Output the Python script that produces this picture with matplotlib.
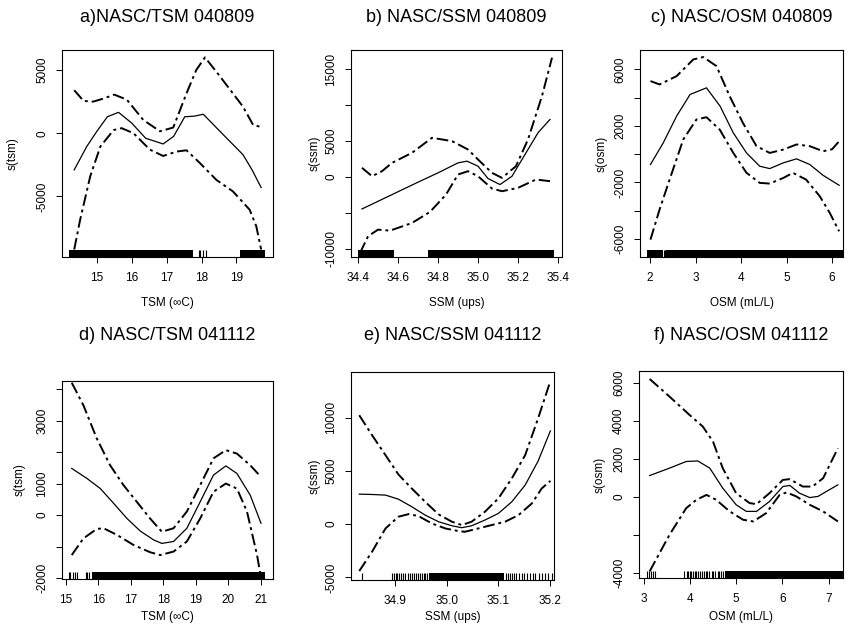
import numpy as np
import matplotlib
matplotlib.use("Agg")
import matplotlib.pyplot as plt
import matplotlib.transforms as mtransforms

plt.rcParams['font.family'] = ['Liberation Sans', 'DejaVu Sans']

W, H = 856, 631

# ---- panel a) NASC/TSM 040809
a_fit_x = [14.35, 14.71, 15.0, 15.3, 15.62, 16.0, 16.4, 16.9, 17.2, 17.52, 17.8, 18.05, 18.6, 19.19, 19.45, 19.71]
a_fit_y = [-2900, -1050, 150, 1300, 1650, 800, -400, -850, -250, 1300, 1350, 1500, -50, -1700, -2900, -4300]
a_up_x = [14.35, 14.62, 14.9, 15.2, 15.5, 15.86, 16.33, 16.81, 17.19, 17.57, 17.85, 18.1, 18.5, 18.9, 19.19, 19.48, 19.7]
a_up_y = [3400, 2550, 2500, 2750, 3050, 2650, 1050, 150, 450, 3150, 5000, 6000, 4600, 3150, 2100, 650, 500]
a_lo_x = [14.35, 14.52, 14.81, 15.1, 15.48, 15.71, 16.05, 16.52, 16.9, 17.29, 17.57, 17.95, 18.43, 18.9, 19.38, 19.57, 19.71]
a_lo_y = [-9200, -6850, -3400, -1050, 250, 400, 0, -1300, -1800, -1450, -1350, -2350, -3700, -4600, -6050, -7350, -9200]
a_rug_bands = [(14.21, 17.76), (19.1, 19.81)]
a_rug_ticks = [17.93, 17.97, 18.03, 18.12]

# ---- panel b) NASC/SSM 040809
b_fit_x = [34.42, 34.57, 34.70, 34.80, 34.90, 34.945, 35.0, 35.05, 35.11, 35.17, 35.24, 35.30, 35.36]
b_fit_y = [-4470, -2470, -740, 560, 1950, 2190, 1490, -230, -1070, 90, 3350, 6140, 8000]
b_up_x = [34.42, 34.47, 34.52, 34.57, 34.67, 34.77, 34.87, 34.95, 35.0, 35.07, 35.12, 35.19, 35.25, 35.32, 35.37]
b_up_y = [1260, 90, 790, 1950, 3350, 5440, 4980, 3810, 2420, 560, -140, 1490, 5210, 11260, 16600]
b_lo_x = [34.41, 34.45, 34.50, 34.56, 34.67, 34.76, 34.84, 34.90, 34.95, 35.0, 35.07, 35.12, 35.20, 35.29, 35.36]
b_lo_y = [-10600, -8280, -7350, -7490, -6420, -4880, -2470, 330, 790, 90, -1630, -2000, -1530, -370, -600]
b_rug_bands = [(34.4, 34.58), (34.75, 35.38)]
b_rug_ticks = []

# ---- panel c) NASC/OSM 040809
c_fit_x = [2.01, 2.29, 2.585, 2.88, 3.24, 3.54, 3.83, 4.12, 4.41, 4.63, 4.93, 5.22, 5.51, 5.80, 6.155]
c_fit_y = [-730, 800, 2700, 4230, 4700, 3400, 1510, 90, -850, -1020, -610, -330, -730, -1490, -2200]
c_up_x = [2.01, 2.21, 2.585, 2.95, 3.17, 3.46, 3.75, 4.04, 4.34, 4.63, 4.93, 5.22, 5.51, 5.80, 6.0, 6.155]
c_up_y = [5180, 4940, 5530, 6710, 6880, 6240, 4110, 2220, 570, 90, 330, 690, 570, 210, 350, 920]
c_lo_x = [2.01, 2.21, 2.43, 2.73, 3.02, 3.24, 3.53, 3.83, 4.12, 4.41, 4.63, 4.93, 5.14, 5.43, 5.73, 5.95, 6.155]
c_lo_y = [-6050, -3920, -1800, 1040, 2460, 2620, 1750, 90, -1320, -2030, -2080, -1680, -1320, -1800, -2980, -4160, -5460]
c_rug_bands = [(1.94, 2.29), (2.345, 6.24)]
c_rug_ticks = [2.31, 2.325]

# ---- panel d) NASC/TSM 041112
d_fit_x = [15.18, 15.65, 16.06, 16.47, 16.88, 17.29, 17.70, 17.95, 18.31, 18.72, 19.13, 19.54, 19.92, 20.26, 20.67, 21.0]
d_fit_y = [1480, 1160, 840, 370, -110, -510, -790, -900, -840, -420, 420, 1270, 1560, 1320, 630, -260]
d_up_x = [15.18, 15.54, 15.95, 16.36, 16.77, 17.18, 17.59, 17.95, 18.31, 18.72, 19.13, 19.54, 19.92, 20.26, 20.67, 21.0]
d_up_y = [4200, 3480, 2430, 1580, 950, 420, -110, -530, -420, 110, 950, 1800, 2060, 1950, 1580, 1210]
d_lo_x = [15.18, 15.54, 15.95, 16.16, 16.57, 17.08, 17.59, 17.90, 18.31, 18.72, 19.13, 19.54, 19.92, 20.26, 20.57, 20.88, 21.0]
d_lo_y = [-1270, -740, -440, -420, -630, -950, -1180, -1270, -1160, -840, -110, 740, 1000, 840, 110, -1270, -2000]
d_rug_bands = [(15.79, 21.12)]
d_rug_ticks = [15.1, 15.14, 15.21, 15.29, 15.33, 15.62, 15.66, 15.72]

# ---- panel e) NASC/SSM 041112
e_fit_x = [34.830, 34.855, 34.881, 34.906, 34.932, 34.958, 34.984, 35.010, 35.029, 35.048, 35.074, 35.1, 35.126, 35.152, 35.177, 35.201]
e_fit_y = [2810, 2780, 2720, 2340, 1630, 840, 220, -160, -340, -160, 380, 1000, 2090, 3660, 5900, 8750]
e_up_x = e_fit_x
e_up_y = [10220, 8340, 6470, 4660, 3340, 2090, 910, 220, -90, 220, 1160, 2410, 4280, 6470, 9910, 13440]
e_lo_x = [34.830, 34.855, 34.881, 34.906, 34.926, 34.945, 34.971, 34.997, 35.023, 35.035, 35.061, 35.087, 35.113, 35.139, 35.165, 35.184, 35.201]
e_lo_y = [-4410, -2590, -410, 690, 940, 750, 60, -410, -660, -720, -410, -90, 220, 840, 1940, 3340, 4060]
e_rug_bands = [(34.966, 35.11)]
e_rug_ticks = [34.836, 34.893, 34.897, 34.901, 34.904, 34.908, 34.912, 34.915, 34.919, 34.924,
               34.929, 34.932, 34.936, 34.94, 34.944, 34.947, 34.951, 34.955, 34.958, 34.962,
               35.114, 35.118, 35.122, 35.127, 35.131, 35.135, 35.14, 35.145, 35.15, 35.156,
               35.162, 35.167, 35.172, 35.178, 35.184, 35.19, 35.197, 35.205]

# ---- panel f) NASC/OSM 041112
f_fit_x = [3.13, 3.56, 3.92, 4.17, 4.43, 4.71, 5.0, 5.22, 5.44, 5.72, 6.01, 6.16, 6.37, 6.59, 6.77, 6.95, 7.2]
f_fit_y = [1120, 1510, 1860, 1890, 1510, 460, -420, -770, -770, -250, 540, 600, 190, -40, 20, 280, 630]
f_up_x = [3.13, 3.56, 3.99, 4.28, 4.5, 4.71, 5.0, 5.29, 5.44, 5.72, 6.01, 6.16, 6.44, 6.65, 6.88, 7.2]
f_up_y = [6210, 5280, 4320, 3700, 2910, 1510, 190, -330, -390, 190, 890, 930, 540, 540, 980, 2560]
f_lo_x = [3.13, 3.56, 3.92, 4.14, 4.36, 4.57, 4.86, 5.15, 5.37, 5.65, 5.94, 6.09, 6.3, 6.59, 6.88, 7.2]
f_lo_y = [-3930, -2000, -600, -160, 100, -160, -770, -1210, -1300, -860, 100, 230, 20, -420, -770, -1300]
f_rug_bands = [(4.76, 7.31)]
f_rug_ticks = [3.08, 3.12, 3.16, 3.2, 3.245, 3.88, 3.94, 3.97, 4.0, 4.03, 4.07, 4.1, 4.14, 4.18,
               4.22, 4.26, 4.3, 4.34, 4.38, 4.42, 4.47, 4.51, 4.55, 4.6, 4.64, 4.68, 4.72]

titles = ["a)NASC/TSM 040809", "b) NASC/SSM 040809", "c) NASC/OSM 040809",
          "d) NASC/TSM 041112", "e) NASC/SSM 041112", "f) NASC/OSM 041112"]
xlabels = ["TSM (\u221eC)", "SSM (ups)", "OSM (mL/L)"] * 2
ylabels = ["s(tsm)", "s(ssm)", "s(osm)"] * 2

xticks = [[15, 16, 17, 18, 19],
          [34.4, 34.6, 34.8, 35.0, 35.2, 35.4],
          [2, 3, 4, 5, 6],
          [15, 16, 17, 18, 19, 20, 21],
          [34.9, 35.0, 35.1, 35.2],
          [3, 4, 5, 6, 7]]
xticklabels = [["15", "16", "17", "18", "19"],
               ["34.4", "34.6", "34.8", "35.0", "35.2", "35.4"],
               ["2", "3", "4", "5", "6"],
               ["15", "16", "17", "18", "19", "20", "21"],
               ["34.9", "35.0", "35.1", "35.2"],
               ["3", "4", "5", "6", "7"]]
yticks = [[-5000, 0, 5000],
          [-10000, -5000, 0, 5000, 10000, 15000],
          [-6000, -4000, -2000, 0, 2000, 4000, 6000],
          [-2000, -1000, 0, 1000, 2000, 3000, 4000],
          [-5000, 0, 5000, 10000],
          [-4000, -2000, 0, 2000, 4000, 6000]]
yticklabels = [["-5000", "0", "5000"],
               ["-10000", "", "0", "5000", "", "15000"],
               ["-6000", "", "-2000", "", "2000", "", "6000"],
               ["-2000", "", "0", "1000", "", "3000", ""],
               ["-5000", "0", "5000", "10000"],
               ["-4000", "", "0", "2000", "4000", "6000"]]

panels = [
    (a_fit_x, a_fit_y, a_up_x, a_up_y, a_lo_x, a_lo_y, a_rug_bands, a_rug_ticks),
    (b_fit_x, b_fit_y, b_up_x, b_up_y, b_lo_x, b_lo_y, b_rug_bands, b_rug_ticks),
    (c_fit_x, c_fit_y, c_up_x, c_up_y, c_lo_x, c_lo_y, c_rug_bands, c_rug_ticks),
    (d_fit_x, d_fit_y, d_up_x, d_up_y, d_lo_x, d_lo_y, d_rug_bands, d_rug_ticks),
    (e_fit_x, e_fit_y, e_up_x, e_up_y, e_lo_x, e_lo_y, e_rug_bands, e_rug_ticks),
    (f_fit_x, f_fit_y, f_up_x, f_up_y, f_lo_x, f_lo_y, f_rug_bands, f_rug_ticks),
]

# layout in pixels: left, top, right, bottom of the plot box
boxes = [(62, 50, 273, 257), (351, 50, 562, 257), (640, 50, 843, 257),
         (62, 381, 273, 579), (351, 372, 554, 580), (639, 371, 843, 578)]
xlims = [(14.0, 20.05), (34.365, 35.42), (1.78, 6.24),
         (14.88, 21.37), (34.814, 35.208), (2.9, 7.31)]
ylims = [(-9790, 6580), (-11160, 17670), (-7280, 7380),
         (-2030, 4255), (-5250, 14280), (-4280, 6630)]
title_y = [18, 18, 18, 335, 335, 335]
xlab_y = [303, 303, 303, 617, 617, 617]
ylab_x = [13, 315, 602, 20, 315, 600]

fig = plt.figure(figsize=(W / 100, H / 100), dpi=100)
dashdot = (0, (6, 2, 1.5, 2))

for i, (fx, fy, ux, uy, lx, ly, bands, ticks) in enumerate(panels):
    l, t, r, b = boxes[i]
    ax = fig.add_axes([l / W, 1 - b / H, (r - l) / W, (b - t) / H])

    ax.plot(fx, fy, color='black', lw=0.9)
    ax.plot(ux, uy, color='black', lw=1.4, linestyle=dashdot)
    ax.plot(lx, ly, color='black', lw=1.4, linestyle=dashdot)

    # rug along the bottom
    trans = mtransforms.blended_transform_factory(ax.transData, ax.transAxes)
    for x0, x1 in bands:
        ax.fill_between([x0, x1], 0, 0.035, color='black', lw=0, transform=trans)
    if ticks:
        ax.vlines(ticks, 0, 0.035, color='black', lw=0.8, transform=trans)

    ax.set_xlim(*xlims[i])
    ax.set_ylim(*ylims[i])
    ax.set_xticks(xticks[i])
    ax.set_xticklabels(xticklabels[i])
    ax.set_yticks(yticks[i])
    ax.set_yticklabels(yticklabels[i], rotation=90, va='center')
    ax.tick_params(direction='out', length=4, width=0.7, labelsize=8.5, pad=7)
    ax.tick_params(axis='y', pad=6)
    for s in ax.spines.values():
        s.set_linewidth(0.8)

    cx = (l + r) / 2 / W
    fig.text(cx, 1 - title_y[i] / H, titles[i], ha='center', va='center', fontsize=13)
    fig.text(cx, 1 - xlab_y[i] / H, xlabels[i], ha='center', va='center', fontsize=8.5)
    fig.text(ylab_x[i] / W, 1 - ((t + b) / 2) / H, ylabels[i], ha='center', va='center',
             rotation=90, fontsize=8.5)

fig.savefig("out.png", dpi=100)
